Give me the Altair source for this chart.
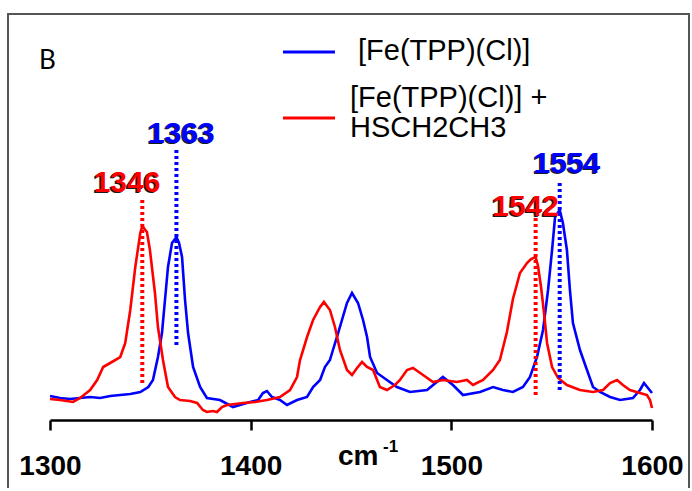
import altair as alt
import pandas as pd

# Spectrum of the parent complex (blue trace)
blue_wn = [1300, 1305, 1310, 1315, 1320, 1325, 1330, 1335, 1340, 1345, 1349, 1351.3,
           1353.8, 1355.8, 1357.3, 1358.8, 1360.8, 1363, 1364.3, 1365.8, 1367.3, 1368.8,
           1371.3, 1374.8, 1378.2, 1384.7, 1391.2, 1399.7, 1403.7, 1406.1, 1408.1, 1410.6,
           1414.6, 1418.1, 1423.1, 1428.1, 1431.1, 1434.6, 1437, 1439.5, 1441, 1443,
           1445.5, 1448, 1450.5, 1453.5, 1456, 1458, 1459.5, 1463, 1467.9, 1472.9,
           1479.4, 1487.9, 1495.8, 1500.8, 1505.8, 1514.3, 1520.8, 1525.7, 1530.7, 1535.7,
           1539.2, 1542.7, 1545.7, 1548.2, 1550.2, 1551.7, 1554, 1555.6, 1557.6, 1559.1,
           1560.6, 1564.1, 1567.6, 1570.6, 1574.1, 1579.1, 1584.1, 1590.5, 1594, 1596,
           1598, 1600]
blue_int = [0.02, 0.01, 0.005, 0.01, 0.015, 0.01, 0.02, 0.025, 0.03, 0.04, 0.065, 0.10,
            0.215, 0.335, 0.50, 0.665, 0.785, 0.815, 0.785, 0.715, 0.50, 0.335,
            0.165, 0.065, 0.01, 0.0, -0.035, -0.01, 0.0, 0.035, 0.045, 0.015,
            0.0, -0.025, 0.0, 0.015, 0.065, 0.10, 0.165, 0.20, 0.25, 0.315,
            0.40, 0.485, 0.535, 0.485, 0.40, 0.315, 0.215, 0.135, 0.10, 0.065,
            0.04, 0.05, 0.115, 0.075, 0.025, 0.04, 0.065, 0.05, 0.04, 0.065,
            0.115, 0.215, 0.35, 0.55, 0.75, 0.915, 0.95, 0.885, 0.75, 0.55,
            0.385, 0.25, 0.15, 0.065, 0.04, 0.015, 0.0, 0.01, 0.05, 0.085,
            0.06, 0.035]

# Spectrum after adding ethanethiol (red trace)
red_wn = [1300, 1305, 1311.5, 1315, 1320, 1323.5, 1326.5, 1330, 1335, 1337.5, 1340, 1342.5,
          1345, 1346, 1348.3, 1349.8, 1352.3, 1353.8, 1356.3, 1358.8, 1362.3, 1364.8,
          1369.8, 1373.3, 1376.2, 1378.2, 1381.2, 1383.2, 1385.7, 1388.2, 1396.2, 1402.2,
          1408.1, 1414.6, 1419.6, 1423.1, 1424.6, 1428.1, 1431.1, 1434.6, 1436.5, 1439.5,
          1442, 1444.5, 1448, 1450.5, 1453, 1455.5, 1458, 1461, 1464.4, 1467.9,
          1471.9, 1474.4, 1477.9, 1480.9, 1485.9, 1490.9, 1495.8, 1502.8, 1507.8, 1510.8,
          1515.8, 1520.8, 1524.2, 1527.7, 1530.7, 1534.2, 1537.7, 1539.7, 1542, 1543.2,
          1544.7, 1546.2, 1547.7, 1550.2, 1553.2, 1557.6, 1564.1, 1570.6, 1575.6, 1579.1,
          1582.6, 1585.5, 1589, 1594, 1597.5, 1599, 1600]
red_int = [0.005, 0.0, -0.01, 0.01, 0.05, 0.10, 0.165, 0.185, 0.215, 0.285, 0.45, 0.665,
           0.835, 0.87, 0.84, 0.75, 0.535, 0.365, 0.20, 0.065, 0.015, 0.0,
           -0.005, -0.015, -0.05, -0.06, -0.055, -0.06, -0.035, -0.025, -0.015, -0.01,
           0.0, 0.015, 0.05, 0.115, 0.20, 0.315, 0.40, 0.465, 0.49, 0.45,
           0.365, 0.25, 0.15, 0.125, 0.16, 0.19, 0.165, 0.15, 0.065, 0.05,
           0.075, 0.10, 0.15, 0.16, 0.125, 0.09, 0.10, 0.09, 0.10, 0.075,
           0.10, 0.15, 0.20, 0.34, 0.505, 0.635, 0.685, 0.705, 0.715, 0.67,
           0.565, 0.435, 0.285, 0.165, 0.11, 0.075, 0.05, 0.04, 0.05, 0.085,
           0.10, 0.075, 0.05, 0.035, 0.025, 0.0, -0.04]

SERIES = ["[Fe(TPP)(Cl)]", "[Fe(TPP)(Cl)] + HSCH2CH3"]
COLORS = ["#0000FF", "#FF0000"]

# Marked band positions
peak_wn = [1346, 1363, 1542, 1554]
peak_series = [SERIES[1], SERIES[0], SERIES[1], SERIES[0]]
peak_text = ["1346", "1363", "1542", "1554"]
peak_top = [1.0, 1.25, 0.94, 1.085]
peak_bottom = [0.085, 0.265, 0.025, 0.05]
peak_label_x = [1338.4, 1365.5, 1537.0, 1557.6]
peak_label_y = [1.085, 1.3325, 0.965, 1.18]

x_ticks = [1300, 1400, 1500, 1600]

spec_df = pd.concat([
    pd.DataFrame({"wn": blue_wn, "intensity": blue_int, "series": SERIES[0]}),
    pd.DataFrame({"wn": red_wn, "intensity": red_int, "series": SERIES[1]}),
], ignore_index=True)

peak_df = pd.DataFrame({
    "wn": peak_wn, "series": peak_series, "label": peak_text,
    "top": peak_top, "bottom": peak_bottom,
    "label_x": peak_label_x, "label_y": peak_label_y,
})

one_row = pd.DataFrame({"k": [0]})

FONT = "Liberation Sans"

x_scale = alt.Scale(domain=[1300, 1600], nice=False, zero=False)
y_scale = alt.Scale(domain=[-0.1, 1.93], nice=False, zero=False)
color_scale = alt.Scale(domain=SERIES, range=COLORS)

x_axis = alt.Axis(
    values=x_ticks, format="d", grid=False,
    domainColor="black", domainWidth=2.5,
    tickColor="black", tickWidth=2.5, tickSize=10,
    labelFont=FONT, labelFontSize=28, labelFontWeight="bold", labelColor="black",
    labelPadding=22, labelFlush=False, labelOverlap=False,
)

spectra = alt.Chart(spec_df).mark_line(strokeWidth=2.6).encode(
    x=alt.X("wn:Q", scale=x_scale, axis=x_axis, title=""),
    y=alt.Y("intensity:Q", scale=y_scale, axis=None),
    color=alt.Color("series:N", scale=color_scale, legend=None),
    detail="series:N",
)

markers = alt.Chart(peak_df).mark_rule(strokeWidth=4, strokeDash=[3, 3]).encode(
    x=alt.X("wn:Q", scale=x_scale, axis=x_axis, title=""),
    y=alt.Y("top:Q", scale=y_scale, axis=None),
    y2="bottom:Q",
    color=alt.Color("series:N", scale=color_scale, legend=None),
)

label_shadow = alt.Chart(peak_df).mark_text(
    font=FONT, fontSize=30, fontWeight="bold", align="center", baseline="middle",
    dx=-1.5, dy=1, color="#1a1a1a",
).encode(
    x=alt.X("label_x:Q", scale=x_scale, axis=x_axis, title=""),
    y=alt.Y("label_y:Q", scale=y_scale, axis=None),
    text="label:N",
)

labels = alt.Chart(peak_df).mark_text(
    font=FONT, fontSize=30, fontWeight="bold", align="center", baseline="middle",
).encode(
    x=alt.X("label_x:Q", scale=x_scale, axis=x_axis, title=""),
    y=alt.Y("label_y:Q", scale=y_scale, axis=None),
    text="label:N",
    color=alt.Color("series:N", scale=color_scale, legend=None),
)

# Legend keys and texts
def legend_key(color, y):
    return alt.Chart(one_row).mark_rule(color=color, strokeWidth=3).encode(
        x=alt.value(233), x2=alt.value(285), y=alt.value(y)
    )

def plain_text(txt, x, y, size=29, weight="normal", font=FONT, baseline="middle"):
    return alt.Chart(one_row).mark_text(
        text=txt, font=font, fontSize=size, fontWeight=weight,
        align="left", baseline=baseline, color="black",
    ).encode(x=alt.value(x), y=alt.value(y))

legend = alt.layer(
    legend_key(COLORS[0], 38),
    legend_key(COLORS[1], 104),
    plain_text("[Fe(TPP)(Cl)]", 308, 37),
    plain_text("[Fe(TPP)(Cl)] +", 300, 84),
    plain_text("HSCH2CH3", 300, 114),
)

panel_tag = plain_text("B", -11, 47, size=26, font="Lato")

axis_title = alt.layer(
    plain_text("cm", 288, 451, size=28, weight="bold", baseline="alphabetic"),
    plain_text("-1", 333, 438, size=17, weight="bold", baseline="alphabetic"),
)

frame = alt.Chart(one_row).mark_rect(filled=False, stroke="#555555", strokeWidth=2).encode(
    x=alt.value(-42), x2=alt.value(639), y=alt.value(0), y2=alt.value(520)
)

chart = alt.layer(
    frame, spectra, markers, label_shadow, labels, legend, panel_tag, axis_title
).properties(
    width=602, height=406,
    padding={"left": 50, "top": 14, "right": 40, "bottom": 68},
    autosize=alt.AutoSizeParams(type="none"),
    background="white",
).configure_view(strokeWidth=0)

chart.save("out.html", embed_options={"renderer": "svg", "actions": False})
